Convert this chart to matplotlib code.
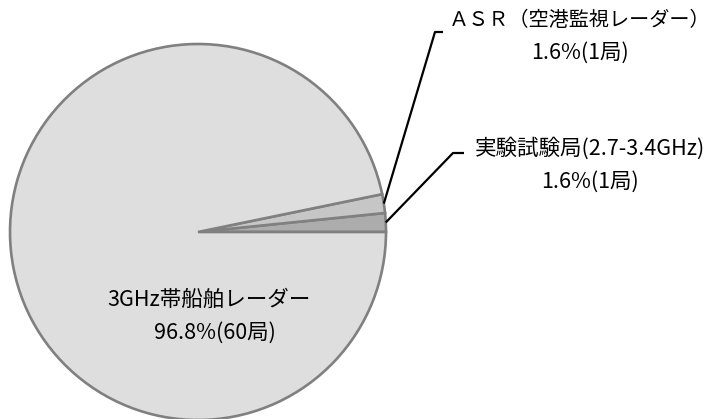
import numpy as np
import matplotlib
matplotlib.use("Agg")
import matplotlib.pyplot as plt

plt.rcParams['font.family'] = ['Noto Sans CJK JP', 'DejaVu Sans']

# data (counter-clockwise from 3 o'clock)
names = ["実験試験局(2.7-3.4GHz)", "ＡＳＲ（空港監視レーダー）", "3GHz帯船舶レーダー"]
counts = [1, 1, 60]
shares = [1.6, 1.6, 96.8]
colors = ["#acacac", "#c6c6c6", "#dedede"]

W, H = 718, 419
fig = plt.figure(figsize=(W / 100, H / 100), dpi=100)

# pie centre at (198, 232) px, radius 188 px
cx, cy, r = 198, 232, 188
ax = fig.add_axes([(cx - r) / W, (H - cy - r) / H, 2 * r / W, 2 * r / H])
wedges, _ = ax.pie(counts, colors=colors, startangle=0, counterclock=True,
                   radius=1.0,
                   wedgeprops=dict(edgecolor="#808080", linewidth=1.9))
for w in wedges:
    w.set_clip_on(False)
ax.set_xlim(-1, 1)
ax.set_ylim(-1, 1)
ax.set_aspect("equal")
ax.axis("off")


def px2data(x, y):
    return (x - cx) / r, (cy - y) / r


def label_lines(i):
    return [names[i], f"{shares[i]:.1f}%({counts[i]}局)"]


# leader lines for the two small slices: elbow and end positions in px
leaders = {1: ((435, 32), (443, 32)), 0: ((453, 153), (464, 153))}
for i, (elbow, end) in leaders.items():
    w = wedges[i]
    ang = np.deg2rad((w.theta1 + w.theta2) / 2)
    x0, y0 = np.cos(ang), np.sin(ang)
    ex, ey = px2data(*elbow)
    nx, ny = px2data(*end)
    ax.plot([x0, ex, nx], [y0, ey, ny], color="black", lw=1.6,
            clip_on=False, solid_capstyle="butt")

# text positions (px centres) and sizes
text_pos = {
    1: [(580, 20), (580, 53)],
    0: [(590, 148), (590, 182)],
    2: [(209, 300), (215, 333)],
}
text_fs = {1: [14.5, 15.5], 0: [15.5, 15.5], 2: [15.5, 15.5]}
for i, pos in text_pos.items():
    for s, (x, y), fs in zip(label_lines(i), pos, text_fs[i]):
        fig.text(x / W, 1 - y / H, s, ha="center", va="center",
                 fontsize=fs, color="black")

fig.savefig("out.png", dpi=100)
